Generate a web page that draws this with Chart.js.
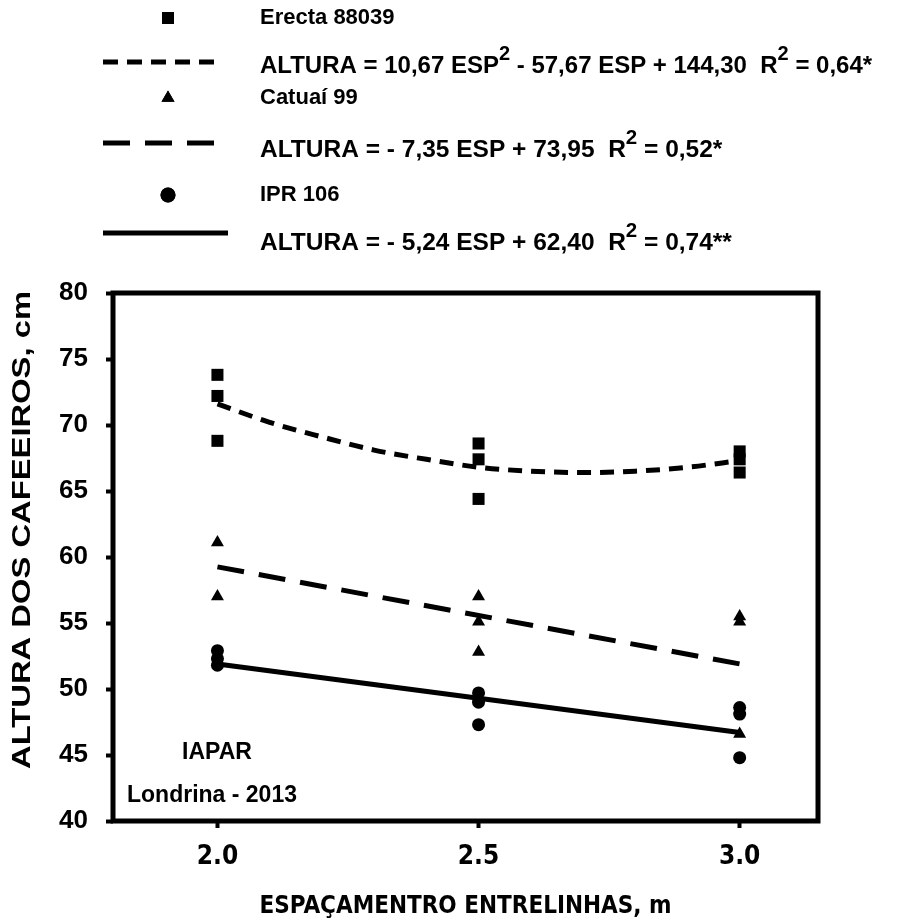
<!DOCTYPE html>
<html>
<head>
<meta charset="utf-8">
<script src="https://cdn.jsdelivr.net/npm/chart.js@4.4.1/dist/chart.umd.min.js"></script>
<style>
  html, body { margin: 0; padding: 0; background: #fff; }
  #wrap { width: 901px; height: 922px; }
</style>
</head>
<body>
<div id="wrap"><canvas id="alturaChart" width="901" height="922"></canvas></div>
<script>
// spacing between rows (m) where plants were measured
const spacings = [2.0, 2.5, 3.0];

const erectaX = [2.0, 2.0, 2.0, 2.5, 2.5, 2.5, 3.0, 3.0, 3.0];
const erectaY = [73.8, 72.2, 68.8, 68.6, 67.4, 64.4, 68.0, 67.4, 66.4];
const catuaiX = [2.0, 2.0, 2.5, 2.5, 2.5, 3.0, 3.0, 3.0];
const catuaiY = [61.1, 57.0, 57.0, 55.1, 52.8, 55.5, 55.1, 46.6];
const iprX = [2.0, 2.0, 2.0, 2.5, 2.5, 2.5, 3.0, 3.0, 3.0];
const iprY = [52.9, 52.3, 51.8, 49.7, 49.0, 47.3, 48.6, 48.1, 44.8];

// fitted curves
const erectaFitX = [2.0, 2.1, 2.2, 2.3, 2.4, 2.5, 2.6, 2.7, 2.8, 2.9, 3.0];
const erectaFitY = [71.6, 70.2, 69.1, 68.1, 67.4, 66.8, 66.5, 66.4, 66.5, 66.8, 67.3];
const catuaiFitX = [2.0, 3.0];
const catuaiFitY = [59.25, 51.9];
const iprFitX = [2.0, 3.0];
const iprFitY = [51.9, 46.7];

const yTicks = [40, 45, 50, 55, 60, 65, 70, 75, 80];

const FONT = "'Liberation Sans', Arial, sans-serif";
const NARROW = "'Liberation Sans Narrow', 'DejaVu Sans Condensed', 'Liberation Sans', sans-serif";

const toPts = (xs, ys) => xs.map((x, i) => ({ x: x, y: ys[i] }));

// legend rows: marker or line sample, then text parts [text, isSuperscript]
const legendRows = [
  { y: 18, ty: 18, size: 22, kind: "rect", parts: [["Erecta 88039", false]] },
  { y: 62, ty: 66, size: 24, kind: "line", dash: [15, 9], end: 216, parts: [["ALTURA = 10,67 ESP", false], ["2", true], [" - 57,67 ESP + 144,30  R", false], ["2", true], [" = 0,64*", false]] },
  { y: 98, ty: 98, size: 22, kind: "triangle", parts: [["Catuaí 99", false]] },
  { y: 143, ty: 150, size: 24.5, kind: "line", dash: [27, 15], end: 216, parts: [["ALTURA = - 7,35 ESP + 73,95  R", false], ["2", true], [" = 0,52*", false]] },
  { y: 195, ty: 195, size: 22, kind: "circle", parts: [["IPR 106", false]] },
  { y: 233, ty: 243, size: 24.5, kind: "line", dash: [], end: 228, parts: [["ALTURA = - 5,24 ESP + 62,40  R", false], ["2", true], [" = 0,74**", false]] },
];

const boxAndLegend = {
  id: "boxAndLegend",
  afterDatasetsDraw(chart) {
    const { ctx, chartArea } = chart;
    ctx.save();
    ctx.strokeStyle = "#000";
    ctx.lineWidth = 5;
    ctx.strokeRect(chartArea.left, chartArea.top, chartArea.right - chartArea.left, chartArea.bottom - chartArea.top);

    // notes inside the plot
    ctx.fillStyle = "#000";
    ctx.textAlign = "center";
    ctx.textBaseline = "middle";
    ctx.font = "bold 23px " + FONT;
    ctx.fillText("IAPAR", 217, 753);
    ctx.textAlign = "left";
    ctx.fillText("Londrina - 2013", 127, 796);

    // y axis title, stretched along its length like the original
    ctx.save();
    ctx.font = "bold 26px " + FONT;
    const label = "ALTURA DOS CAFEEIROS, cm";
    const w = ctx.measureText(label).width;
    ctx.translate(23, 530);
    ctx.rotate(-Math.PI / 2);
    ctx.scale(478 / w, 1);
    ctx.textAlign = "center";
    ctx.fillText(label, 0, 0);
    ctx.restore();

    // legend
    legendRows.forEach((row) => {
      ctx.fillStyle = "#000";
      ctx.strokeStyle = "#000";
      if (row.kind === "line") {
        ctx.lineWidth = 5;
        ctx.setLineDash(row.dash);
        ctx.beginPath();
        ctx.moveTo(103, row.y);
        ctx.lineTo(row.end, row.y);
        ctx.stroke();
        ctx.setLineDash([]);
      } else {
        Chart.helpers.drawPoint(ctx, { pointStyle: row.kind, radius: row.kind === "rect" ? 8.5 : 7.5, borderWidth: 0 }, 168, row.y);
        ctx.fill();
      }
      let x = 260;
      ctx.textAlign = "left";
      ctx.textBaseline = "middle";
      row.parts.forEach(([text, sup]) => {
        ctx.font = "bold " + (sup ? row.size - 4 : row.size) + "px " + FONT;
        ctx.fillText(text, x, sup ? row.ty - 12 : row.ty);
        x += ctx.measureText(text).width;
      });
    });
    ctx.restore();
  },
};

const ctx = document.getElementById("alturaChart").getContext("2d");

new Chart(ctx, {
  type: "scatter",
  data: {
    datasets: [
      { label: "Erecta 88039", data: toPts(erectaX, erectaY), pointStyle: "rect", pointRadius: 8.5, backgroundColor: "#000", borderWidth: 0 },
      { label: "Catuaí 99", data: toPts(catuaiX, catuaiY), pointStyle: "triangle", pointRadius: 7.5, backgroundColor: "#000", borderWidth: 0 },
      { label: "IPR 106", data: toPts(iprX, iprY), pointStyle: "circle", pointRadius: 6.5, backgroundColor: "#000", borderWidth: 0 },
      { type: "line", label: "Erecta fit", data: toPts(erectaFitX, erectaFitY), borderColor: "#000", borderWidth: 5, borderDash: [14, 9], pointRadius: 0, cubicInterpolationMode: "monotone", fill: false },
      { type: "line", label: "Catuaí fit", data: toPts(catuaiFitX, catuaiFitY), borderColor: "#000", borderWidth: 5, borderDash: [27, 15], pointRadius: 0, fill: false },
      { type: "line", label: "IPR fit", data: toPts(iprFitX, iprFitY), borderColor: "#000", borderWidth: 5, pointRadius: 0, fill: false },
    ],
  },
  options: {
    responsive: false,
    animation: false,
    layout: { padding: { top: 293, right: 83, bottom: 0, left: 0 } },
    plugins: {
      legend: { display: false },
      tooltip: { enabled: false },
    },
    scales: {
      x: {
        type: "linear",
        min: 1.8,
        max: 3.15,
        afterFit: (scale) => { scale.height = 101; },
        afterBuildTicks: (scale) => { scale.ticks = spacings.map((v) => ({ value: v })); },
        ticks: {
          color: "#000",
          padding: 14,
          font: { family: NARROW, size: 26, weight: "bold" },
          callback: (v) => Number(v).toFixed(1),
        },
        grid: { drawOnChartArea: false, drawTicks: true, tickLength: 7, tickWidth: 4, color: "#000" },
        border: { display: false },
        title: {
          display: true,
          text: "ESPAÇAMENTRO ENTRELINHAS, m",
          color: "#000",
          font: { family: NARROW, size: 24, weight: "bold" },
          padding: { top: 0, bottom: 1 },
        },
      },
      y: {
        min: 40,
        max: 80,
        afterFit: (scale) => { scale.width = 113; },
        afterBuildTicks: (scale) => { scale.ticks = yTicks.map((v) => ({ value: v })); },
        ticks: {
          color: "#000",
          padding: 18,
          font: { family: FONT, size: 26, weight: "bold" },
        },
        grid: { drawOnChartArea: false, drawTicks: true, tickLength: 7, tickWidth: 4, color: "#000" },
        border: { display: false },
        title: { display: false },
      },
    },
  },
  plugins: [boxAndLegend],
});
</script>
</body>
</html>
